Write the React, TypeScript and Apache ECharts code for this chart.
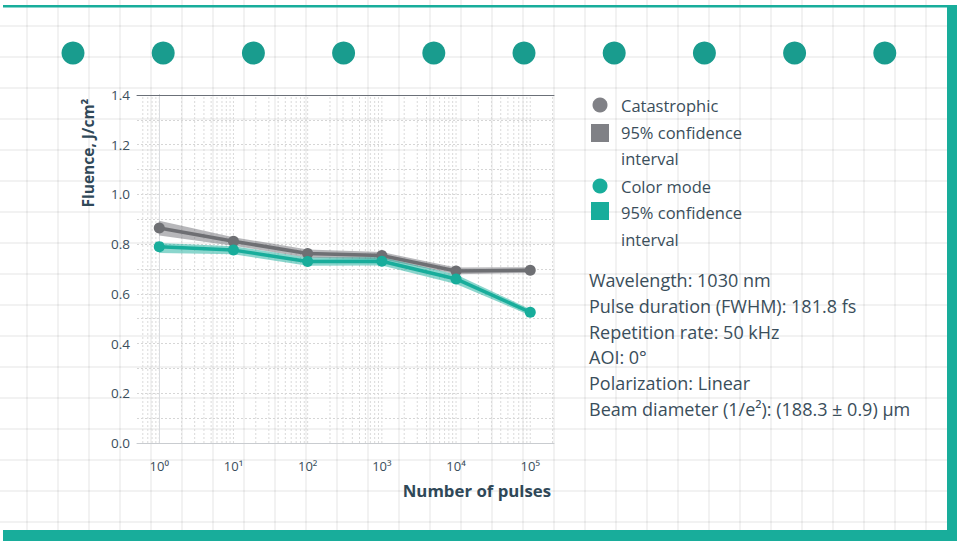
import React, { useEffect, useRef } from "react";
import * as echarts from "echarts";

// Number of pulses as decade exponents (10^n)
const pulseExponents = [0, 1, 2, 3, 4, 5];
const xTickLabels = ["10⁰", "10¹", "10²", "10³", "10⁴", "10⁵"];

// Catastrophic damage threshold (J/cm²)
const catastrophic = [0.865, 0.812, 0.762, 0.754, 0.692, 0.695];
const catLower = [0.835, 0.794, 0.745, 0.739, 0.679, 0.684];
const catUpper = [0.894, 0.828, 0.778, 0.768, 0.706, 0.707];

// Color mode threshold (J/cm²)
const colorMode = [0.79, 0.776, 0.73, 0.731, 0.66, 0.526];
const colLower = [0.764, 0.759, 0.713, 0.714, 0.64, 0.513];
const colUpper = [0.805, 0.792, 0.746, 0.747, 0.678, 0.538];

const yTicks = [0, 0.2, 0.4, 0.6, 0.8, 1.0, 1.2, 1.4];

const infoLines = [
  "Wavelength: 1030 nm",
  "Pulse duration (FWHM): 181.8 fs",
  "Repetition rate: 50 kHz",
  "AOI: 0°",
  "Polarization: Linear",
  "Beam diameter (1/e²): (188.3 ± 0.9) µm",
];

const FONT = "Open Sans";
const TEXT = "#3a4e5b";
const TEAL = "#18ad9b";
const TEAL_DARK = "#199c8e";
const GRAY = "#6e6f73";

export default function App() {
  const ref = useRef<HTMLDivElement>(null);

  useEffect(() => {
    if (!ref.current) return;
    const chart = echarts.init(ref.current, undefined, { renderer: "svg" });

    // log-scale vertical grid positions (decoration)
    const vGrid: number[] = [];
    for (let d = -1; d <= 5; d++) {
      for (let k = 1; k <= 9; k++) {
        const v = d + Math.log10(k);
        if (v >= -0.3 && v <= 5.32) vGrid.push(v);
      }
    }

    const bg: any[] = [];
    for (let x = 27; x < 957; x += 31) {
      bg.push({ type: "line", silent: true, z: -10, shape: { x1: x, y1: 0, x2: x, y2: 541 }, style: { stroke: "rgba(0,0,0,0.07)", lineWidth: 1.5 } });
    }
    for (let y = 26; y < 541; y += 31) {
      bg.push({ type: "line", silent: true, z: -10, shape: { x1: 0, y1: y, x2: 957, y2: y }, style: { stroke: "rgba(0,0,0,0.07)", lineWidth: 1.5 } });
    }
    const dots: any[] = [];
    for (let i = 0; i < 10; i++) {
      dots.push({ type: "circle", silent: true, shape: { cx: 73 + i * 90.2, cy: 53, r: 11.5 }, style: { fill: TEAL_DARK } });
    }

    const band = (lower: number[], upper: number[], color: string) => ({
      type: "custom",
      silent: true,
      z: 1,
      data: [0],
      renderItem: (_p: any, api: any) => {
        const pts: number[][] = [];
        for (let i = 0; i < pulseExponents.length; i++) pts.push(api.coord([pulseExponents[i], upper[i]]));
        for (let i = pulseExponents.length - 1; i >= 0; i--) pts.push(api.coord([pulseExponents[i], lower[i]]));
        return { type: "polygon", shape: { points: pts }, style: { fill: color } };
      },
    });

    const LF = `16.5px "${FONT}"`;
    const legend: any[] = [
      { type: "circle", shape: { cx: 600, cy: 105, r: 7.5 }, style: { fill: "#808186" } },
      { type: "text", x: 621, y: 105, style: { text: "Catastrophic", font: LF, fill: TEXT, verticalAlign: "middle" } },
      { type: "rect", shape: { x: 591, y: 124, width: 18, height: 18 }, style: { fill: "#808186" } },
      { type: "text", x: 621, y: 132, style: { text: "95% confidence", font: LF, fill: TEXT, verticalAlign: "middle" } },
      { type: "text", x: 621, y: 158, style: { text: "interval", font: LF, fill: TEXT, verticalAlign: "middle" } },
      { type: "circle", shape: { cx: 600, cy: 186, r: 7.5 }, style: { fill: TEAL } },
      { type: "text", x: 621, y: 186, style: { text: "Color mode", font: LF, fill: TEXT, verticalAlign: "middle" } },
      { type: "rect", shape: { x: 591, y: 202, width: 18, height: 18 }, style: { fill: TEAL } },
      { type: "text", x: 621, y: 212, style: { text: "95% confidence", font: LF, fill: TEXT, verticalAlign: "middle" } },
      { type: "text", x: 621, y: 239, style: { text: "interval", font: LF, fill: TEXT, verticalAlign: "middle" } },
    ];
    const info = infoLines.map((t, i) => ({
      type: "text",
      x: 589,
      y: 280 + i * 25.8,
      style: { text: t, font: `18px "${FONT}"`, fill: TEXT, verticalAlign: "middle" },
    }));

    const frame: any[] = [
      { type: "rect", silent: true, shape: { x: 3, y: 5, width: 946, height: 2.5 }, style: { fill: TEAL } },
      { type: "rect", silent: true, shape: { x: 947, y: 5, width: 10, height: 536 }, style: { fill: TEAL } },
      { type: "rect", silent: true, shape: { x: 3, y: 530, width: 954, height: 11 }, style: { fill: TEAL } },
    ];

    const titles: any[] = [
      { type: "text", x: 88, y: 153, rotation: Math.PI / 2, style: { text: "Fluence, J/cm²", font: `bold 15.5px "${FONT}"`, fill: "#2f4858", align: "center", verticalAlign: "middle" } },
      { type: "text", x: 551, y: 490, style: { text: "Number of pulses", font: `bold 16.8px "${FONT}"`, fill: "#2f4858", align: "right", verticalAlign: "middle" } },
    ];

    chart.setOption({
      animation: false,
      backgroundColor: "#ffffff",
      textStyle: { fontFamily: FONT },
      grid: { left: 137, top: 95, right: 403, bottom: 98, containLabel: false },
      xAxis: [
        {
          type: "value",
          min: -0.3,
          max: 5.32,
          axisLine: { show: true, lineStyle: { color: "#c9ccd0", width: 1 } },
          axisTick: { show: false },
          splitLine: { show: false },
          axisLabel: {
            customValues: pulseExponents,
            formatter: (v: number) => xTickLabels[pulseExponents.indexOf(Math.round(v))] ?? "",
            color: TEXT,
            fontSize: 13,
            fontFamily: FONT,
            margin: 16,
          },
        },
        {
          type: "value",
          position: "top",
          min: -0.3,
          max: 5.32,
          axisLine: { show: true, onZero: false, lineStyle: { color: "#6b7078", width: 1 } },
          axisTick: { show: false },
          axisLabel: { show: false },
          splitLine: { show: false },
        },
      ],
      yAxis: [
        {
          type: "value",
          min: 0,
          max: 1.4,
          interval: 0.2,
          axisLine: { show: true, lineStyle: { color: "#7d8590", width: 1 } },
          axisTick: { show: false },
          axisLabel: {
            formatter: (v: number) => (yTicks.some((t) => Math.abs(t - v) < 1e-6) ? v.toFixed(1) : ""),
            color: TEXT,
            fontSize: 13.5,
            fontFamily: FONT,
            margin: 7,
          },
          splitLine: { show: true, lineStyle: { color: "#d6d6d6", type: [2, 2], width: 1 } },
          minorTick: { show: false, splitNumber: 2 },
          minorSplitLine: { show: true, lineStyle: { color: "#d6d6d6", type: [2, 2], width: 1 } },
        },
        {
          type: "value",
          position: "right",
          min: 0,
          max: 1.4,
          axisLine: { show: true, lineStyle: { color: "#dadcdf", width: 1 } },
          axisTick: { show: false },
          axisLabel: { show: false },
          splitLine: { show: false },
        },
      ],
      graphic: [...bg, ...dots, ...frame, ...legend, ...info, ...titles],
      series: [
        {
          type: "custom",
          silent: true,
          z: 0,
          data: vGrid.map((v) => [v]),
          renderItem: (params: any, api: any) => {
            const x = api.value(0);
            const p1 = api.coord([x, 0]);
            const p2 = api.coord([x, 1.4]);
            return { type: "line", shape: { x1: p1[0], y1: p1[1], x2: p2[0], y2: p2[1] }, style: { stroke: "#dadada", lineWidth: 1, lineDash: [2, 2] } };
          },
        },
        band(catLower, catUpper, "rgba(112,112,118,0.5)"),
        band(colLower, colUpper, "rgba(24,173,155,0.5)"),
        {
          name: "Catastrophic",
          type: "line",
          z: 3,
          data: pulseExponents.map((x, i) => [x, catastrophic[i]]),
          symbol: "circle",
          symbolSize: 11,
          itemStyle: { color: GRAY },
          lineStyle: { color: GRAY, width: 3.5 },
        },
        {
          name: "Color mode",
          type: "line",
          z: 4,
          data: pulseExponents.map((x, i) => [x, colorMode[i]]),
          symbol: "circle",
          symbolSize: 11,
          itemStyle: { color: TEAL },
          lineStyle: { color: TEAL, width: 3.5 },
        },
      ],
    });

    return () => chart.dispose();
  }, []);

  return <div ref={ref} style={{ position: "fixed", left: 0, top: 0, width: 957, height: 541 }} />;
}
